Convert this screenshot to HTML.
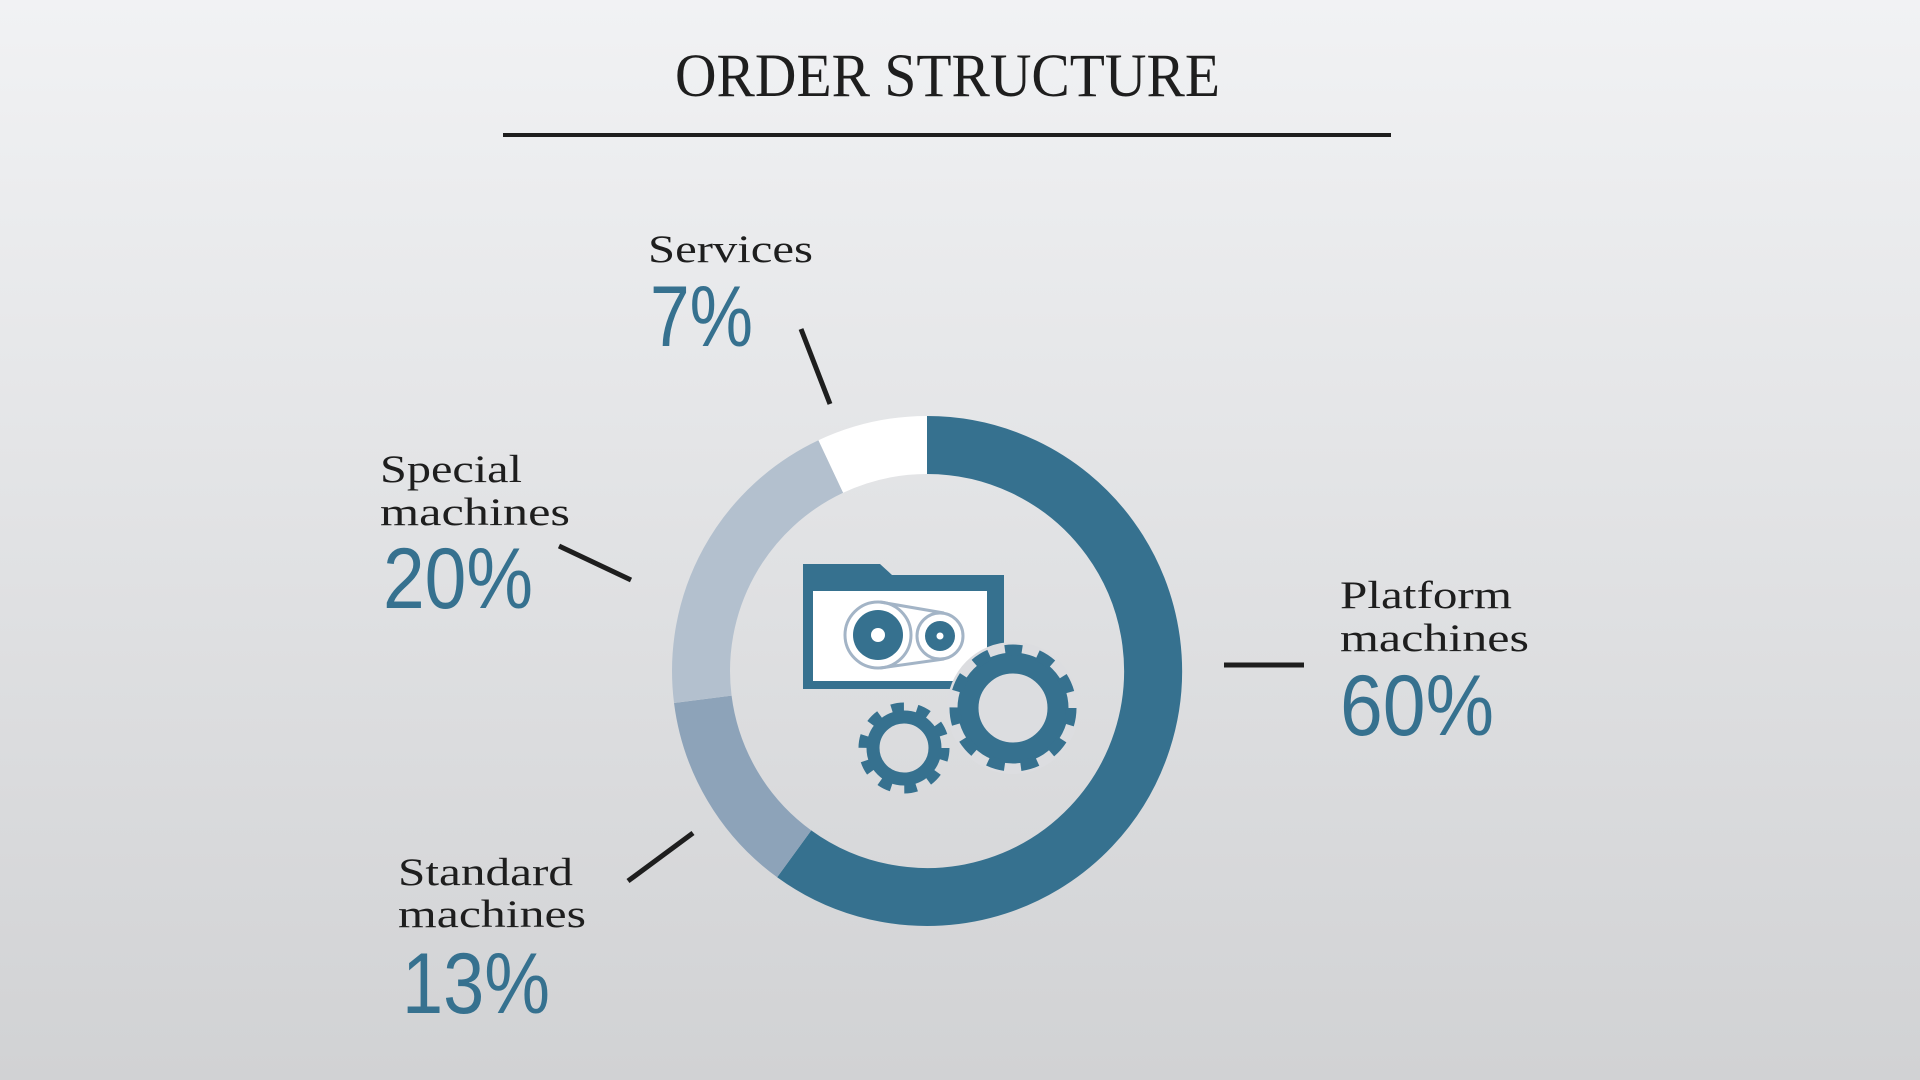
<!DOCTYPE html>
<html><head><meta charset="utf-8"><style>
html,body{margin:0;padding:0;width:1920px;height:1080px;overflow:hidden}
body{background:linear-gradient(#f1f2f4,#d1d2d4)}
svg{display:block}
.lb{font-family:"Liberation Serif",serif;font-size:39px;fill:#1e1e1e}
.pc{font-family:"Liberation Sans",sans-serif;font-size:86px;fill:#36718f}
</style></head><body>
<svg width="1920" height="1080" viewBox="0 0 1920 1080" xmlns="http://www.w3.org/2000/svg">
<text x="675" y="96" font-family="Liberation Serif,serif" font-size="61" fill="#1e1e1e" textLength="545" lengthAdjust="spacingAndGlyphs">ORDER STRUCTURE</text>
<rect x="503" y="133" width="888" height="4" fill="#1e1e1e"/>

<g fill="none" stroke-width="58">
<path d="M927,445 A226,226 0 1 1 794.2,853.8" stroke="#36718f"/>
<path d="M794.2,853.8 A226,226 0 0 1 702.8,699.3" stroke="#8da3b9"/>
<path d="M702.8,699.3 A226,226 0 0 1 830.8,466.5" stroke="#b3c0ce"/>
<path d="M830.8,466.5 A226,226 0 0 1 927,445" stroke="#ffffff"/>
</g>

<g stroke="#1e1e1e" stroke-width="5">
<line x1="801" y1="329" x2="830" y2="404"/>
<line x1="559" y1="546" x2="631" y2="580"/>
<line x1="628" y1="881" x2="693" y2="833"/>
<line x1="1224" y1="665" x2="1304" y2="665"/>
</g>

<text class="lb" x="648" y="262" textLength="165" lengthAdjust="spacingAndGlyphs">Services</text>
<text class="pc" x="650" y="346" textLength="103" lengthAdjust="spacingAndGlyphs">7%</text>
<text class="lb" x="380" y="482" textLength="142" lengthAdjust="spacingAndGlyphs">Special</text>
<text class="lb" x="380" y="525" textLength="190" lengthAdjust="spacingAndGlyphs">machines</text>
<text class="pc" x="383" y="608" textLength="150" lengthAdjust="spacingAndGlyphs">20%</text>
<text class="lb" x="398" y="885" textLength="175" lengthAdjust="spacingAndGlyphs">Standard</text>
<text class="lb" x="398" y="927" textLength="188" lengthAdjust="spacingAndGlyphs">machines</text>
<text class="pc" x="402" y="1013" textLength="148" lengthAdjust="spacingAndGlyphs">13%</text>
<text class="lb" x="1340" y="608" textLength="172" lengthAdjust="spacingAndGlyphs">Platform</text>
<text class="lb" x="1340" y="651" textLength="189" lengthAdjust="spacingAndGlyphs">machines</text>
<text class="pc" x="1340" y="735" textLength="154" lengthAdjust="spacingAndGlyphs">60%</text>

<!-- folder -->
<path d="M803,564 L880,564 L892,575 L1004,575 L1004,689 L803,689 Z" fill="#36718f"/>
<rect x="813" y="591" width="174" height="90" fill="#fff"/>
<!-- belt -->
<g fill="none" stroke="#a3b4c6" stroke-width="3">
<circle cx="878" cy="635" r="33"/>
<circle cx="940" cy="636" r="23"/>
<line x1="880" y1="602" x2="944" y2="613"/>
<line x1="880" y1="668" x2="944" y2="659"/>
</g>
<circle cx="878" cy="635" r="29" fill="#fff"/>
<circle cx="878" cy="635" r="25" fill="#36718f"/>
<circle cx="878" cy="635" r="7" fill="#fff"/>
<circle cx="940" cy="636" r="19" fill="#fff"/>
<circle cx="940" cy="636" r="15" fill="#36718f"/>
<circle cx="940" cy="636" r="3.5" fill="#fff"/>

<!-- big gear -->
<circle cx="1013" cy="708" r="66" fill="#dcdde0"/>
<g fill="none" stroke="#36718f">
<circle cx="1013" cy="708" r="45" stroke-width="21"/>
<circle cx="1013" cy="708" r="58" stroke-width="11" stroke-dasharray="17 16.13"/>
</g>
<!-- small gear -->
<g fill="none" stroke="#36718f">
<circle cx="904" cy="748" r="31" stroke-width="13"/>
<circle cx="904" cy="748" r="41" stroke-width="9" stroke-dasharray="12.5 13.26"/>
</g>
</svg>
</body></html>
